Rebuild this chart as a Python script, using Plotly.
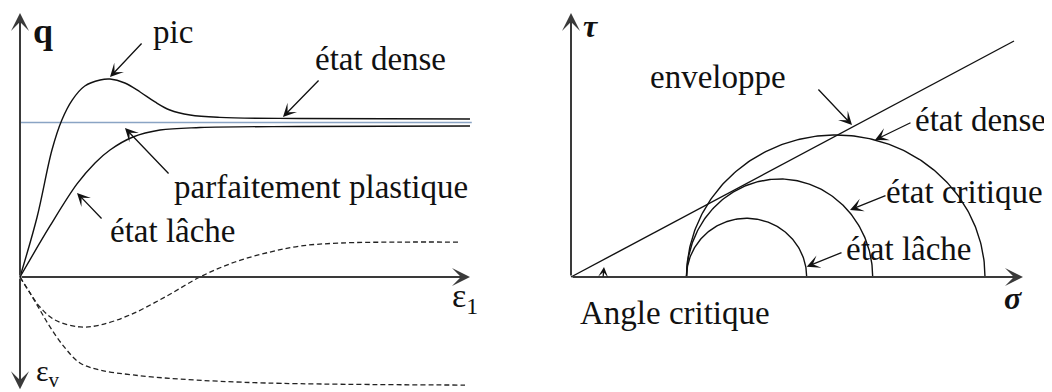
import numpy as np
import plotly.graph_objects as go

# ---------------- Left panel data (eps1 in %, q in kPa, eps_v in same vertical units) -------------
eps_dense = [0, 0.38, 0.71, 0.93, 1.16, 1.44, 1.78, 2.0, 2.33, 2.67, 3.0, 3.33, 3.78, 4.44, 6.22, 10.0]
q_dense = [0, 38.0, 80.4, 99.4, 112.0, 120.9, 124.7, 125.3, 122.8, 117.1, 110.8, 105.7, 102.5, 101.0, 100.3, 100.0]

eps_loose = [0, 0.667, 1.267, 1.667, 2.0, 2.511, 3.111, 4.0, 6.222, 10.0]
q_loose = [0, 32.3, 58.9, 72.2, 80.4, 88.6, 93.0, 94.6, 95.3, 95.6]

eps_plastic = [0, 10.04]
q_plastic = [97.8, 97.8]

eps_vd = [0, 0.222, 0.444, 0.778, 1.333, 1.778, 2.444, 3.222, 4.0, 4.778, 5.556, 6.222, 7.111, 8.444, 9.733]
ev_dense = [0, -10.1, -19.0, -27.2, -31.6, -30.4, -24.0, -12.7, 0, 9.5, 15.8, 19.6, 21.5, 22.1, 22.1]

eps_vl = [0, 0.222, 0.444, 0.667, 1.0, 1.333, 1.778, 2.511, 3.556, 5.489, 9.889]
ev_loose = [0, -10.1, -20.9, -31.6, -44.9, -54.4, -58.9, -62.0, -64.6, -67.1, -68.4]

# ---------------- Right panel data (Mohr circles) -------------
sigma3 = [11.55, 11.55, 11.55]
sigma1 = [23.57, 30.17, 41.4]
tau_top = [5.87, 9.8, 14.2]
env_sigma = [0, 44.3]
env_tau = [0, 23.6]

FONT = "Liberation Serif"
FS = 33
AX = "#3a3a3a"

fig = go.Figure()

line_k = dict(color="#111111", width=1.4)
fig.add_trace(go.Scatter(x=eps_plastic, y=q_plastic, mode="lines",
                         line=dict(color="#8aa4c4", width=1.5), xaxis="x", yaxis="y"))
fig.add_trace(go.Scatter(x=eps_dense, y=q_dense, mode="lines", line=dict(line_k, shape="spline", smoothing=1.0),
                         xaxis="x", yaxis="y"))
fig.add_trace(go.Scatter(x=eps_loose, y=q_loose, mode="lines", line=dict(line_k, shape="spline", smoothing=1.0),
                         xaxis="x", yaxis="y"))
dash_k = dict(color="#222222", width=1.3, dash="5px,3px", shape="spline", smoothing=1.0)
fig.add_trace(go.Scatter(x=eps_vd, y=ev_dense, mode="lines", line=dash_k, xaxis="x", yaxis="y"))
fig.add_trace(go.Scatter(x=eps_vl, y=ev_loose, mode="lines", line=dash_k, xaxis="x", yaxis="y"))

# Right panel
fig.add_trace(go.Scatter(x=env_sigma, y=env_tau, mode="lines", line=line_k, xaxis="x2", yaxis="y2"))
theta = np.linspace(0, np.pi, 181)
for s3, s1, h in zip(sigma3, sigma1, tau_top):
    c = (s1 + s3) / 2
    r = (s1 - s3) / 2
    fig.add_trace(go.Scatter(x=c + r * np.cos(theta), y=h * np.sin(theta), mode="lines",
                             line=line_k, xaxis="x2", yaxis="y2"))

ann = []


def arrow(x, y, ax, ay, xr="x", yr="y", w=1.3, head=3, size=1.7, color="#111111"):
    ann.append(dict(x=x, y=y, ax=ax, ay=ay, xref=xr, yref=yr, axref=xr, ayref=yr, text="",
                    showarrow=True, arrowhead=head, arrowsize=size, arrowwidth=w,
                    arrowcolor=color, standoff=0, startstandoff=0))


def label(x, y, t, xr="x", yr="y", size=FS, xanchor="center"):
    ann.append(dict(x=x, y=y, xref=xr, yref=yr, text=t, showarrow=False,
                    font=dict(family=FONT, size=size, color="#111111"),
                    xanchor=xanchor, yanchor="middle"))


# axes arrows left
arrow(10.0, 0, 0, 0, w=2, size=1.5, color=AX)
arrow(0, 167.1, 0, 0, w=2, size=1.5, color=AX)
arrow(0, -71.0, 0, 0, w=2, size=1.5, color=AX)
# axes arrows right
arrow(45.2, 0, 0, 0, xr="x2", yr="y2", w=2, size=1.5, color=AX)
arrow(0, 26.4, 0, 0, xr="x2", yr="y2", w=2, size=1.5, color=AX)

# annotation arrows left
arrow(2.0, 126.6, 2.733, 148.7)
arrow(5.844, 101.3, 6.667, 125.3)
arrow(2.333, 94.3, 3.333, 64.6)
arrow(1.267, 53.2, 1.844, 36.1)
# annotation arrows right
arrow(28.1, 15.2, 24.6, 18.9, "x2", "y2")
arrow(30.4, 13.7, 34.1, 15.5, "x2", "y2")
arrow(27.9, 6.7, 31.6, 8.2, "x2", "y2")
arrow(23.57, 1.03, 27.2, 2.5, "x2", "y2")
arrow(3.3, 1.0, 3.2, -0.1, "x2", "y2", size=1.3)

# labels left
label(0.244, 155.7, "<b>q</b>", size=36, xanchor="left")
label(3.4, 155.1, "pic")
label(8.022, 138.0, "état dense")
label(6.689, 57.0, "parfaitement plastique")
label(3.4, 29.1, "état lâche")
label(9.89, -13.3, "ε<sub>1</sub>", size=34)
label(0.622, -60.5, "ε<sub>v</sub>", size=30)

# labels right
label(2.0, 25.1, "<b><i>τ</i></b>", "x2", "y2", size=32)
label(14.7, 20.0, "enveloppe", "x2", "y2")
label(40.9, 15.7, "état dense", "x2", "y2")
label(39.3, 8.5, "état critique", "x2", "y2")
label(33.8, 2.8, "état lâche", "x2", "y2")
label(44.2, -2.1, "<b><i>σ</i></b>", "x2", "y2", size=32)
label(10.4, -3.6, "Angle critique", "x2", "y2")

# The HTML page body has an 8px margin: the figure is sized to the visible area.
OFF = 8
W, H = 1052 - OFF, 392 - OFF
fig.update_layout(
    width=W, height=H, margin=dict(l=0, r=0, t=0, b=0),
    paper_bgcolor="white", plot_bgcolor="white", showlegend=False,
    annotations=ann,
    xaxis=dict(domain=[0, 492 / W], range=[(8 - 20) / 45, 480 / 45], visible=False, fixedrange=True),
    yaxis=dict(domain=[0, 1], range=[-115 / 1.58, 269 / 1.58], visible=False, fixedrange=True),
    xaxis2=dict(domain=[532 / W, 1], range=[-3.1, 48.1], visible=False, anchor="y2", fixedrange=True),
    yaxis2=dict(domain=[0, 1], range=[-11.5, 26.9], visible=False, anchor="x2", fixedrange=True),
)
fig.write_html("out.html", config={"displayModeBar": False})
